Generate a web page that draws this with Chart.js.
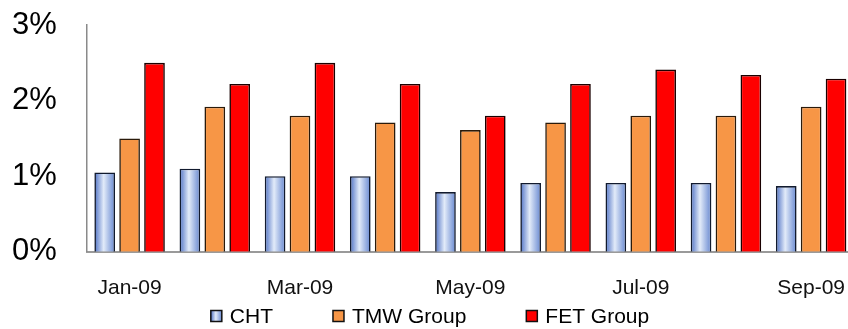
<!DOCTYPE html>
<html>
<head>
<meta charset="utf-8">
<script src="https://cdn.jsdelivr.net/npm/chart.js@4.4.1/dist/chart.umd.min.js"></script>
<style>
  html, body { margin: 0; padding: 0; background: #ffffff; overflow: hidden; }
  #wrap { position: relative; width: 869px; height: 329px; }
</style>
</head>
<body>
<div id="wrap"><canvas id="c"></canvas></div>
<script>
const categories = ['Jan-09', 'Feb-09', 'Mar-09', 'Apr-09', 'May-09', 'Jun-09', 'Jul-09', 'Aug-09', 'Sep-09'];
const chtValues = [1.05, 1.10, 1.00, 1.00, 0.79, 0.91, 0.91, 0.91, 0.87];
const tmwValues = [1.50, 1.92, 1.80, 1.71, 1.61, 1.71, 1.80, 1.80, 1.92];
const fetValues = [2.50, 2.22, 2.50, 2.22, 1.80, 2.22, 2.41, 2.34, 2.29];
const seriesNames = ['CHT', 'TMW Group', 'FET Group'];
const yTicks = [0, 1, 2, 3];

const CAT_PCT = 0.877;
const BAR_PCT = 0.83;
const FONT = '"Liberation Sans", Arial, sans-serif';

function chtGradient(ctx2d, x0, x1) {
  const g = ctx2d.createLinearGradient(x0, 0, x1, 0);
  g.addColorStop(0, '#4d70c4');
  g.addColorStop(0.45, '#e2ebf9');
  g.addColorStop(1, '#6687d0');
  return g;
}

function chtFill(ctx) {
  const chart = ctx.chart;
  const xs = chart.scales && chart.scales.x;
  if (ctx.type !== 'data' || !xs || !chart.chartArea) return '#aabfe9';
  const catW = xs.width / categories.length;
  const slot = catW * CAT_PCT / 3;
  const w = slot * BAR_PCT;
  const cx = xs.getPixelForValue(ctx.dataIndex) + (ctx.datasetIndex - 1) * slot;
  return chtGradient(chart.ctx, cx - w / 2, cx + w / 2);
}

const legendPlugin = {
  id: 'customLegend',
  afterDraw(chart) {
    const c = chart.ctx;
    const ds = chart.data.datasets;
    const box = 11, gapText = 8, gapItem = 60;
    c.save();
    c.font = '21px ' + FONT;
    const widths = ds.map(d => box + gapText + c.measureText(d.label).width);
    const total = widths.reduce((a, b) => a + b, 0) + gapItem * (ds.length - 1);
    let x = 430 - total / 2;
    const y = chart.height - 13;
    ds.forEach((d, i) => {
      let fill = d.legendColor;
      if (i === 0) fill = chtGradient(c, x, x + box);
      c.fillStyle = fill;
      c.fillRect(x, y - box / 2, box, box);
      c.lineWidth = 1.5;
      c.strokeStyle = '#111111';
      c.strokeRect(x, y - box / 2, box, box);
      c.fillStyle = '#000000';
      c.textBaseline = 'middle';
      c.textAlign = 'left';
      c.fillText(d.label, x + box + gapText, y + 1);
      x += widths[i] + gapItem;
    });
    c.restore();
  }
};

new Chart(document.getElementById('c'), {
  type: 'bar',
  data: {
    labels: categories,
    datasets: [
      { label: seriesNames[0], data: chtValues, backgroundColor: chtFill, legendColor: '#aabfe9',
        borderColor: '#111a2e', borderWidth: 1.6 },
      { label: seriesNames[1], data: tmwValues, backgroundColor: '#f79646', legendColor: '#f79646',
        borderColor: '#2a1a0a', borderWidth: 1.6 },
      { label: seriesNames[2], data: fetValues, backgroundColor: '#ff0000', legendColor: '#ff0000',
        borderColor: '#1a0000', borderWidth: 1.6 }
    ]
  },
  options: {
    responsive: true,
    maintainAspectRatio: false,
    animation: false,
    layout: { padding: { left: 12, right: 0, top: 25, bottom: 4 } },
    datasets: { bar: { categoryPercentage: CAT_PCT, barPercentage: BAR_PCT } },
    plugins: { legend: { display: false }, tooltip: { enabled: false } },
    scales: {
      x: {
        grid: { display: false, drawTicks: false },
        border: { display: true, color: '#9a9a9a', width: 2 },
        ticks: {
          autoSkip: false,
          maxRotation: 0,
          padding: 24,
          color: '#111111',
          font: { family: FONT, size: 21 },
          callback: (v, i) => (i % 2 === 0 ? categories[i] : '')
        }
      },
      y: {
        min: yTicks[0],
        max: yTicks[yTicks.length - 1],
        afterBuildTicks: (axis) => { axis.ticks = yTicks.map(v => ({ value: v })); },
        afterFit: (axis) => { axis.width = 75; },
        grid: { display: false, drawTicks: false },
        border: { display: true, color: '#8a8a8a', width: 1.5 },
        ticks: {
          padding: 0,
          crossAlign: 'far',
          color: '#000000',
          font: { family: FONT, size: 31 },
          callback: (v) => v + '%'
        }
      }
    }
  },
  plugins: [legendPlugin]
});
</script>
</body>
</html>
